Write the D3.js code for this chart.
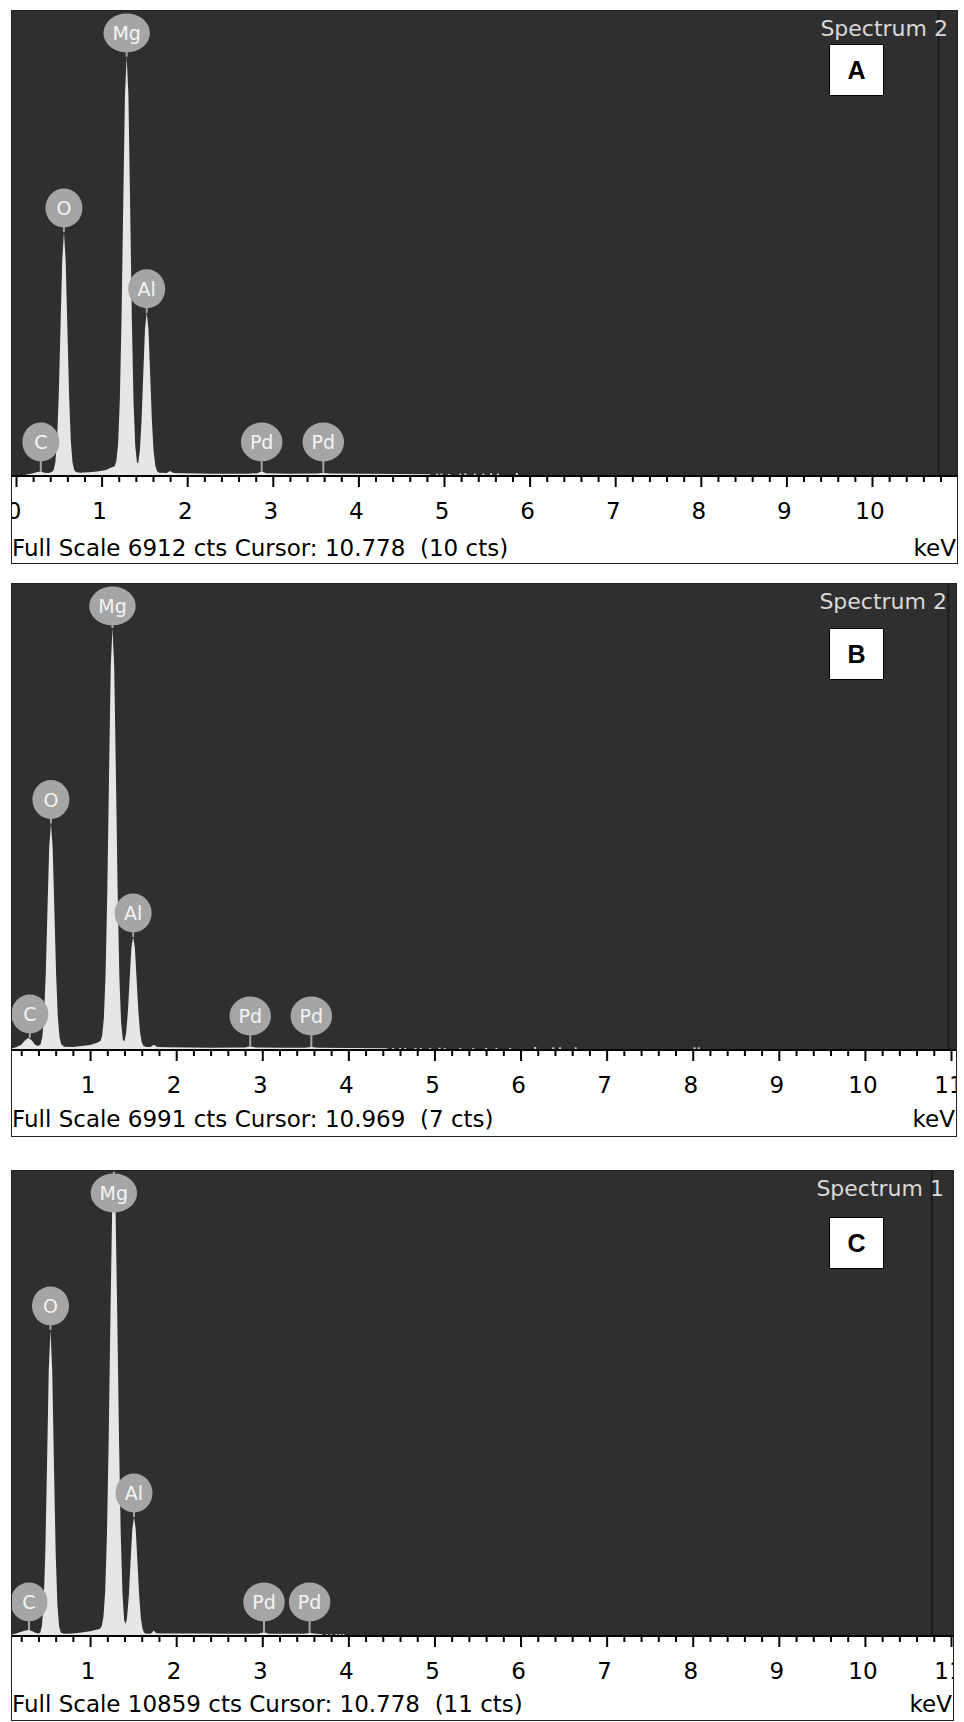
<!DOCTYPE html>
<html>
<head>
<meta charset="utf-8">
<script src="https://cdn.jsdelivr.net/npm/d3@7"></script>
<style>
  html, body { margin: 0; padding: 0; background: #fff; }
  svg { display: block; }
  text { white-space: pre; }
</style>
</head>
<body>
<svg id="chart" width="964" height="1722"></svg>
<script>
// ---- EDS spectra: [energy keV, counts] ----
const spectrumA = [
  [0.00,0],[0.10,15],[0.20,40],[0.25,60],[0.29,65],[0.33,50],[0.38,45],[0.42,60],
  [0.44,90],[0.46,205],[0.48,530],[0.50,1210],[0.52,2210],[0.54,3200],[0.56,3620],[0.58,3200],
  [0.60,2210],[0.62,1210],[0.64,530],[0.66,205],[0.68,90],[0.70,58],
  [0.75,50],[0.85,55],[0.95,65],[1.05,90],[1.10,120],
  [1.153,145],[1.173,225],[1.193,480],[1.213,1125],[1.233,2340],[1.253,4050],[1.273,5655],[1.293,6220],
  [1.313,5655],[1.333,4050],[1.353,2340],[1.373,1100],[1.393,450],[1.413,200],[1.427,190],
  [1.447,380],[1.467,836],[1.487,1518],[1.507,2186],[1.527,2420],[1.547,2186],[1.567,1518],
  [1.587,836],[1.607,380],[1.627,155],[1.647,75],[1.67,50],
  [1.76,45],[1.80,75],[1.84,45],[1.95,40],[2.30,35],[2.70,35],[2.82,40],[2.87,70],[2.92,40],
  [3.20,35],[3.52,38],[3.59,50],[3.66,38],[4.00,32],[4.50,30],[4.84,25],[4.85,0]
];
const tailA = [[4.92,35],[4.97,35],[5.06,30],[5.19,35],[5.25,40],[5.36,35],[5.46,35],[5.55,40],[5.63,35],[5.85,45]];

const spectrumB = [
  [0.08,20],[0.14,40],[0.20,80],[0.24,140],[0.28,180],[0.32,150],[0.36,80],[0.40,60],
  [0.425,85],[0.445,190],[0.465,500],[0.485,1140],[0.505,2100],[0.525,3030],[0.545,3390],[0.565,3030],
  [0.585,2100],[0.605,1140],[0.625,500],[0.645,190],[0.665,85],[0.70,50],
  [0.80,45],[0.90,60],[1.00,75],[1.08,110],
  [1.12,135],[1.14,215],[1.16,475],[1.18,1130],[1.20,2375],[1.22,4110],[1.24,5740],[1.26,6317],
  [1.28,5740],[1.30,4110],[1.32,2375],[1.34,1100],[1.36,420],[1.38,156],[1.40,128],
  [1.42,270],[1.44,590],[1.46,1066],[1.48,1533],[1.50,1692],[1.52,1533],[1.54,1066],[1.56,590],
  [1.58,270],[1.60,115],[1.62,60],[1.66,45],
  [1.70,45],[1.74,80],[1.78,45],[1.90,40],[2.40,35],[2.80,38],[2.86,55],[2.92,38],
  [3.20,35],[3.50,35],[3.57,45],[3.64,35],[4.00,30],[4.45,28],[4.46,0]
];
const tailB = [[4.52,30],[4.60,30],[4.66,30],[4.78,30],[4.84,30],[4.95,30],[5.06,35],[5.12,30],
  [5.30,30],[5.45,30],[5.60,30],[5.72,30],[5.88,30],[6.17,45],[6.38,40],[6.46,40],[6.64,40],[8.02,40],[8.07,40]];

const spectrumC = [
  [0.08,30],[0.14,60],[0.20,100],[0.25,130],[0.29,140],[0.33,110],[0.37,70],[0.40,60],
  [0.42,77],[0.44,225],[0.46,730],[0.48,1960],[0.50,4010],[0.52,6200],[0.54,7133],[0.56,6200],
  [0.58,4010],[0.60,1960],[0.62,730],[0.64,225],[0.66,77],[0.70,55],
  [0.80,60],[0.90,80],[1.00,110],[1.06,140],[1.10,155],
  [1.116,170],[1.136,235],[1.156,458],[1.176,1066],[1.196,2375],[1.216,4580],[1.236,7410],[1.256,9900],
  [1.276,10820],[1.296,9900],[1.316,7410],[1.336,4580],[1.356,2375],[1.376,990],[1.396,360],[1.416,280],
  [1.43,446],[1.45,940],[1.47,1722],[1.49,2488],[1.51,2774],[1.53,2488],[1.55,1722],[1.57,940],
  [1.59,415],[1.61,160],[1.63,70],[1.66,55],
  [1.71,60],[1.74,130],[1.77,65],[1.85,60],[2.20,60],[2.60,55],[2.95,55],[3.02,85],[3.08,55],
  [3.30,50],[3.48,50],[3.55,70],[3.62,50],[3.70,40],[3.71,0]
];
const tailC = [[3.75,40],[3.80,40],[3.86,45],[3.90,45],[3.94,45]];

// ---- element markers: [symbol, energy keV] ----
const markersA = [["C",0.29],["O",0.56],["Mg",1.293],["Al",1.527],["Pd",2.87],["Pd",3.59]];
const markersB = [["C",0.30],["O",0.545],["Mg",1.26],["Al",1.50],["Pd",2.86],["Pd",3.57]];
const markersC = [["C",0.29],["O",0.54],["Mg",1.276],["Al",1.51],["Pd",3.02],["Pd",3.55]];

// ---- acquisition info ----
const panelLetters = ["A", "B", "C"];
const spectrumNames = ["Spectrum 2", "Spectrum 2", "Spectrum 1"];
const fullScaleCts = [6912, 6991, 10859];
const cursorKeV = [10.778, 10.969, 10.778];
const cursorCts = [10, 7, 11];
const majorTicks = [0,1,2,3,4,5,6,7,8,9,10,11];
const energyMax = 11;

// ---- page layout of the three spectrum windows ----
const layout = [
  { top: 10,   axisY: 476,  bottom: 564,  left: 11, right: 958, x0: 16, x11: 957.6, boxY: 44,   footY: 556 },
  { top: 583,  axisY: 1050, bottom: 1137, left: 11, right: 957, x0: 4,  x11: 951,   boxY: 628,  footY: 1127 },
  { top: 1170, axisY: 1636, bottom: 1721, left: 11, right: 954, x0: 4,  x11: 951,   boxY: 1217, footY: 1712 }
];

const panels = [
  { spectrum: spectrumA, tail: tailA, markers: markersA },
  { spectrum: spectrumB, tail: tailB, markers: markersB },
  { spectrum: spectrumC, tail: tailC, markers: markersC }
].map((d, i) => Object.assign(d, layout[i], {
  letter: panelLetters[i], name: spectrumNames[i], fullScale: fullScaleCts[i],
  cursor: cursorKeV[i], cursorCounts: cursorCts[i]
}));

const svg = d3.select("#chart");
const defs = svg.append("defs");
const FONT = "'DejaVu Sans', Verdana, sans-serif";

function peakCounts(spec, kev) {
  let best = 0;
  spec.forEach(([e, c]) => { if (Math.abs(e - kev) <= 0.025) best = Math.max(best, c); });
  return best;
}

panels.forEach((p, i) => {
  const clipId = "clip" + i;
  defs.append("clipPath").attr("id", clipId)
    .append("rect").attr("x", p.left).attr("y", p.top)
    .attr("width", p.right - p.left).attr("height", p.bottom - p.top);

  const x = d3.scaleLinear().domain([0, energyMax]).range([p.x0, p.x11]);
  const y = d3.scaleLinear().domain([0, p.fullScale]).range([p.axisY, p.top]);

  const g = svg.append("g").attr("clip-path", `url(#${clipId})`);

  // plot background and axis band
  g.append("rect").attr("x", p.left).attr("y", p.top)
    .attr("width", p.right - p.left).attr("height", p.axisY - p.top).attr("fill", "#2f2f2f");
  g.append("rect").attr("x", p.left).attr("y", p.axisY)
    .attr("width", p.right - p.left).attr("height", p.bottom - p.axisY).attr("fill", "#ffffff");

  // cursor marker
  g.append("line").attr("x1", x(p.cursor)).attr("x2", x(p.cursor))
    .attr("y1", p.top).attr("y2", p.axisY)
    .attr("stroke", "#1c1c1c").attr("stroke-width", 2);

  // spectrum
  const area = d3.area().x(d => x(d[0])).y0(p.axisY).y1(d => y(d[1]));
  g.append("path").datum(p.spectrum).attr("d", area).attr("fill", "#e6e6e6");

  // isolated counts beyond the continuum
  g.selectAll(".tail").data(p.tail).join("rect")
    .attr("x", d => x(d[0]) - 1).attr("y", d => y(d[1]))
    .attr("width", 2).attr("height", d => p.axisY - y(d[1]))
    .attr("fill", "#d4d4d4");

  // element markers
  p.markers.forEach(([sym, kev]) => {
    const top = y(peakCounts(p.spectrum, kev));
    const cx = x(kev);
    const cy = Math.max(p.top + 23, Math.min(top - 24, p.axisY - 34));
    g.append("line").attr("x1", cx).attr("x2", cx).attr("y1", cy).attr("y2", top)
      .attr("stroke", "#a6a6a6").attr("stroke-width", 2);
    const ell = g.append("ellipse").attr("cx", cx).attr("cy", cy).attr("ry", 19.5)
      .attr("fill", "#a5a5a5");
    const t = g.append("text").attr("x", cx).attr("y", cy + 7)
      .attr("text-anchor", "middle").attr("font-family", FONT).attr("font-size", 19)
      .attr("fill", "#f4f4f4").text(sym);
    const w = t.node().getComputedTextLength();
    ell.attr("rx", Math.max(18.5, w / 2 + 9));
  });

  // spectrum name
  g.append("text").attr("x", p.right - 10).attr("y", p.top + 26)
    .attr("text-anchor", "end").attr("font-family", FONT).attr("font-size", 22)
    .attr("fill", "#d9d9d9").text(p.name);

  // energy axis: minor ticks every 0.2 keV, major every 1 keV
  const minor = d3.range(0, energyMax + 0.001, 0.2).filter(v => Math.abs(v - Math.round(v)) > 0.01);
  const axMinor = g.append("g").attr("transform", `translate(0,${p.axisY})`)
    .call(d3.axisBottom(x).tickValues(minor).tickSize(6).tickFormat(""));
  const axMajor = g.append("g").attr("transform", `translate(0,${p.axisY})`)
    .call(d3.axisBottom(x).tickValues(majorTicks).tickSize(11).tickFormat(""));
  [axMinor, axMajor].forEach(a => {
    a.select(".domain").remove();
    a.selectAll(".tick line").attr("stroke", "#000").attr("stroke-width", 2);
  });
  // tick labels only where the energy falls inside the window
  g.selectAll(".kev-label")
    .data(majorTicks.filter(v => x(v) >= p.left + 2 && x(v) <= p.right - 2))
    .join("text")
    .attr("x", v => x(v) - 2).attr("y", p.axisY + 43)
    .attr("text-anchor", "middle").attr("font-family", FONT).attr("font-size", 23)
    .attr("fill", "#000").text(d3.format("d"));
  g.append("line").attr("x1", p.left).attr("x2", p.right)
    .attr("y1", p.axisY).attr("y2", p.axisY).attr("stroke", "#000").attr("stroke-width", 2);

  // status line
  g.append("text").attr("x", p.left + 1).attr("y", p.footY)
    .attr("font-family", FONT).attr("font-size", 23).attr("fill", "#000")
    .text(`Full Scale ${p.fullScale} cts Cursor: ${p.cursor.toFixed(3)}  (${p.cursorCounts} cts)`);
  g.append("text").attr("x", p.right - 2).attr("y", p.footY)
    .attr("text-anchor", "end").attr("font-family", FONT).attr("font-size", 23)
    .attr("fill", "#000").text("keV");

  // panel letter
  g.append("rect").attr("x", 829.5).attr("y", p.boxY + 0.5).attr("width", 54).attr("height", 51)
    .attr("fill", "#fff").attr("stroke", "#000").attr("stroke-width", 1);
  g.append("text").attr("x", 856.5).attr("y", p.boxY + 35)
    .attr("text-anchor", "middle").attr("font-family", "'Liberation Sans', Arial, sans-serif")
    .attr("font-weight", "bold").attr("font-size", 25).attr("fill", "#000").text(p.letter);

  // window frame
  svg.append("rect").attr("x", p.left + 0.5).attr("y", p.top + 0.5)
    .attr("width", p.right - p.left - 1).attr("height", p.bottom - p.top - 1)
    .attr("fill", "none").attr("stroke", "#222").attr("stroke-width", 1);
});
</script>
</body>
</html>
